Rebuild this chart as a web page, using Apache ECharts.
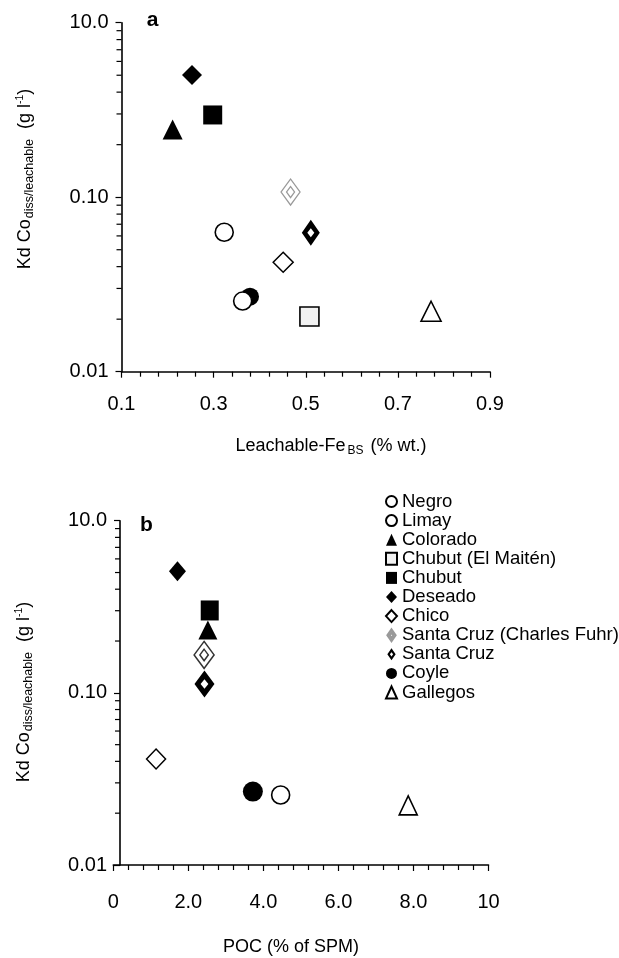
<!DOCTYPE html>
<html><head><meta charset="utf-8">
<script src="https://cdn.jsdelivr.net/npm/echarts@6/dist/echarts.min.js"></script>
<style>html,body{margin:0;padding:0;background:#fff}#c{width:619px;height:958px}</style>
</head><body><div id="c"></div>
<script>
// ---------- DATA ----------
const rivers = ['Negro','Limay','Colorado','Chubut (El Maitén)','Chubut','Deseado','Chico','Santa Cruz (Charles Fuhr)','Santa Cruz','Coyle','Gallegos'];
// panel a : Leachable-Fe_BS (% wt.) vs Kd
const feA = [0.323, 0.363, 0.211, 0.508, 0.298, 0.253, 0.451, 0.467, 0.511, 0.379, 0.772];
const kdA = [0.063, 0.0254, 0.244, 0.0207, 0.296, 0.501, 0.0424, 0.107, 0.0626, 0.0269, 0.0222];
// panel b : POC (% of SPM) vs Kd
const pocB = [null, 4.46, 2.52, null, 2.57, 1.71, 1.14, 2.42, 2.43, 3.72, 7.86];
const kdB = [null, 0.0255, 0.232, null, 0.301, 0.509, 0.0413, 0.166, 0.1125, 0.0267, 0.0222];
// axes
const xRangeA = [0.1, 0.9], xStepA = 0.2;
const xTicksA = ['0.1','0.3','0.5','0.7','0.9'];
const xRangeB = [0, 10], xStepB = 2;
const xTicksB = ['0','2.0','4.0','6.0','8.0','10'];
const yRange = [0.01, 1];
const yTickValues = [0.01, 0.1, 1];
const yTickLabels = ['0.01','0.10','10.0'];
const yMinorTicks = [0.02,0.03,0.04,0.05,0.06,0.07,0.08,0.09,0.2,0.3,0.4,0.5,0.6,0.7,0.8,0.9];

// ---------- STYLES ----------
const FONT = "'Liberation Sans', Arial, sans-serif";
const SC_PATH = 'path://M0,-13L9,0L0,13L-9,0Z M0,-4.5L-3.5,0L0,4.5L3.5,0Z';
const CF_PATH = 'path://M0,-13L9,0L0,13L-9,0Z M0,-5.5L3.8,0L0,5.5L-3.8,0Z';
const styles = [
  {symbol:'circle', sa:18, sb:18, item:{color:'#fff', borderColor:'#000', borderWidth:1.6}},
  {symbol:'circle', sa:18, sb:18, item:{color:'#fff', borderColor:'#000', borderWidth:1.6}, z:4},
  {symbol:'triangle', sa:[20,20], sb:[19,19], item:{color:'#000'}},
  {symbol:'rect', sa:19, sb:19, item:{color:'#f2f2f2', borderColor:'#000', borderWidth:1.6}},
  {symbol:'rect', sa:19, sb:[18,20], item:{color:'#000'}},
  {symbol:'diamond', sa:[20,20], sb:[17,20], item:{color:'#000'}},
  {symbol:'diamond', sa:[20,20], sb:[19,20], item:{color:'#fff', borderColor:'#000', borderWidth:1.5}},
  {symbol:CF_PATH, sa:[19,26], sb:[20,27], item:{color:'#fff', borderColor:'#999', borderWidth:1.3}, itemB:{color:'#fff', borderColor:'#333', borderWidth:1.5}},
  {symbol:SC_PATH, sa:[18,26], sb:[20,27], item:{color:'#000'}},
  {symbol:'circle', sa:18, sb:20, item:{color:'#000'}},
  {symbol:'triangle', sa:[20,20], sb:[18,19], item:{color:'#fff', borderColor:'#000', borderWidth:1.6}}
];

const series = [];
rivers.forEach((name, i) => {
  const st = styles[i];
  series.push({type:'scatter', name, xAxisIndex:0, yAxisIndex:0, data:[[feA[i], kdA[i]]],
    symbol:st.symbol, symbolSize:st.sa, itemStyle:{...st.item, opacity:1}, z:st.z || 2, emphasis:{disabled:true}});
});
rivers.forEach((name, i) => {
  const st = styles[i];
  if (pocB[i] == null) return;
  series.push({type:'scatter', name, xAxisIndex:1, yAxisIndex:1, data:[[pocB[i], kdB[i]]],
    symbol:st.symbol, symbolSize:st.sb, itemStyle:{...(st.itemB || st.item), opacity:1}, z:st.z || 2, emphasis:{disabled:true}});
});
// y minor ticks (log decades 2..9) drawn through the axis scale
const yAxisShift = [0, 6.7];
[0,1].forEach(k => {
  const xmin = k === 0 ? xRangeA[0] : xRangeB[0];
  series.push({type:'custom', xAxisIndex:k, yAxisIndex:k, silent:true, clip:false, z:5,
    data: yMinorTicks.map(v => [xmin, v]),
    renderItem: (params, api) => {
      const p = api.coord([api.value(0), api.value(1)]);
      const x = p[0] + yAxisShift[k];
      return {type:'line', shape:{x1:x-5, y1:p[1], x2:x, y2:p[1]}, style:{stroke:'#000', lineWidth:1.2}};
    }});
});

function yLab(v){
  for (let j=0;j<yTickValues.length;j++) if (Math.abs(Math.log10(v)-Math.log10(yTickValues[j]))<0.01) return yTickLabels[j];
  return '';
}
const axisLine = {show:true, lineStyle:{color:'#000', width:1.6}};
const tickStyle = {color:'#000', width:1.2};
function yAxis(grid, offset){
  return {type:'log', gridIndex:grid, min:yRange[0], max:yRange[1], logBase:10, offset,
    axisLine, axisTick:{show:true, length:6, lineStyle:tickStyle},
    axisLabel:{margin:13, fontSize:20, color:'#000', fontFamily:FONT, formatter:yLab},
    splitLine:{show:false}, minorTick:{show:false}};
}
function xAxis(grid, range, step, labels, margin){
  return {type:'value', gridIndex:grid, min:range[0], max:range[1], interval:step,
    axisLine:{...axisLine, onZero:false}, axisTick:{show:true, length:6, lineStyle:tickStyle},
    minorTick:{show:true, splitNumber:5, length:5, lineStyle:tickStyle},
    axisLabel:{margin, fontSize:20, color:'#000', fontFamily:FONT,
      formatter:v => labels[Math.round((v-range[0])/step)] || ''},
    splitLine:{show:false}, minorSplitLine:{show:false}};
}
const yTitle = '{m|Kd Co}{s|diss/leachable}{m|  (g l}{p|-1}{m|)}';
const yTitleRich = {m:{fontSize:18, fontFamily:FONT, fill:'#000'}, s:{fontSize:12.5, fontFamily:FONT, fill:'#000', padding:[10,0,0,1]}, p:{fontSize:10.5, fontFamily:FONT, fill:'#000', padding:[0,0,9,0]}};

const option = {
  backgroundColor:'#fff',
  animation:false,
  grid:[
    {left:121.5, right:129, top:22.7, bottom:586.3},
    {left:113.3, right:130.5, top:520.7, bottom:93}
  ],
  xAxis:[xAxis(0, xRangeA, xStepA, xTicksA, 23), xAxis(1, xRangeB, xStepB, xTicksB, 27)],
  yAxis:[yAxis(0, 0), yAxis(1, -6.7)],
  legend:{data:rivers, orient:'vertical', left:385, top:492, padding:0, itemGap:0.1, itemWidth:11, itemHeight:12,
    selectedMode:false, textStyle:{fontSize:18.5, color:'#000', fontFamily:FONT}},
  series,
  graphic:[
    {type:'text', x:25, y:179, rotation:Math.PI/2, style:{text:yTitle, align:'center', verticalAlign:'middle', fill:'#000', rich:yTitleRich}},
    {type:'text', x:24, y:692, rotation:Math.PI/2, style:{text:yTitle, align:'center', verticalAlign:'middle', fill:'#000', rich:yTitleRich}},
    {type:'text', x:331, y:446, style:{text:'{m|Leachable-Fe}{s|BS}{m| (% wt.)}', align:'center', verticalAlign:'middle', fill:'#000',
      rich:{m:{fontSize:18, fontFamily:FONT, fill:'#000'}, s:{fontSize:12, fontFamily:FONT, fill:'#000', padding:[9,2,0,2]}}}},
    {type:'text', x:291, y:946.7, style:{text:'POC (% of SPM)', align:'center', verticalAlign:'middle', fill:'#000', fontSize:18, fontFamily:FONT}},
    {type:'text', x:152.5, y:20, style:{text:'a', align:'center', verticalAlign:'middle', fill:'#000', fontSize:21, fontWeight:'bold', fontFamily:FONT}},
    {type:'text', x:146.3, y:525.5, style:{text:'b', align:'center', verticalAlign:'middle', fill:'#000', fontSize:21, fontWeight:'bold', fontFamily:FONT}}
  ]
};
const chart = echarts.init(document.getElementById('c'), null, {renderer:'canvas'});
chart.setOption(option);
</script></body></html>
